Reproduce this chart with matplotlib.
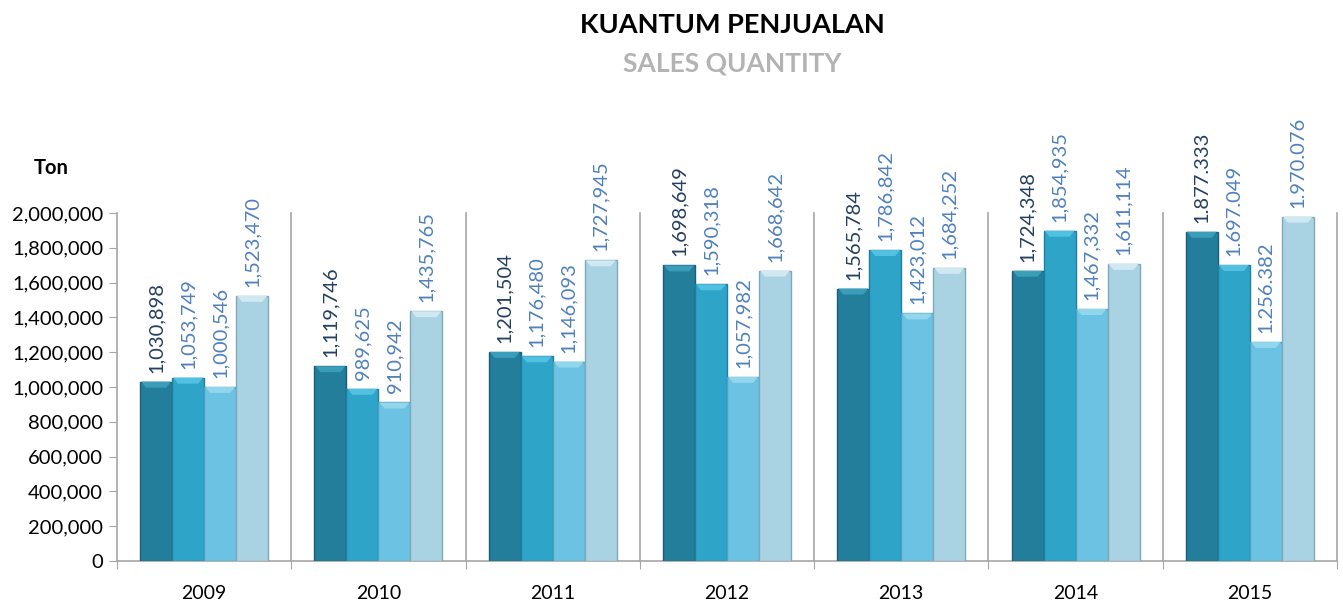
import numpy as np
import matplotlib
matplotlib.use('Agg')
import matplotlib.pyplot as plt
from matplotlib.patches import Polygon

plt.rcParams['font.family'] = ['Lato', 'DejaVu Sans']

years = ['2009', '2010', '2011', '2012', '2013', '2014', '2015']

# label text as printed on the chart
labels = [
    ['1,030,898', '1,053,749', '1,000,546', '1,523,470'],
    ['1,119,746', '989,625', '910,942', '1,435,765'],
    ['1,201,504', '1,176,480', '1,146,093', '1,727,945'],
    ['1,698,649', '1,590,318', '1,057,982', '1,668,642'],
    ['1,565,784', '1,786,842', '1,423,012', '1,684,252'],
    ['1,724,348', '1,854,935', '1,467,332', '1,611,114'],
    ['1.877.333', '1.697.049', '1.256.382', '1.970.076'],
]

# bar heights as drawn (2014 bars do not quite follow their labels)
heights = [
    [1030898, 1053749, 1000546, 1523470],
    [1119746, 989625, 910942, 1435765],
    [1201504, 1176480, 1146093, 1727945],
    [1698649, 1590318, 1057982, 1668642],
    [1565784, 1786842, 1423012, 1684252],
    [1668000, 1898000, 1448000, 1707000],
    [1892000, 1701000, 1259000, 1979000],
]

bar_colors = ['#237e9b', '#2ea4c8', '#6cc2e2', '#a9d2e3']
edge_colors = ['#1a5f75', '#1f7f9c', '#4f9fbf', '#7fa9ba']
top_colors = ['#3a9dba', '#52c0e0', '#92d6ee', '#cfe8f2']
label_colors = ['#243f60', '#4f81bd', '#4f81bd', '#4f81bd']

fig = plt.figure(figsize=(13.43, 6.05), dpi=100)
ax = fig.add_axes([0.0871, 0.0727, 0.9084, 0.5753])

ymax = 2000000
ax.set_xlim(0, 7)
ax.set_ylim(0, ymax)

bw = 0.1836
n = len(years)
h = np.array(heights)

# pixel -> data conversion for the bevel
px_x = 7 / (0.9084 * 1343)
px_y = ymax / (0.5753 * 605)

for s in range(4):
    xs = np.arange(n) + 0.5 + (s - 1.5) * bw
    ax.bar(xs, h[:, s], width=bw, color=bar_colors[s], edgecolor=edge_colors[s],
           linewidth=1.0, zorder=3)
    for i in range(n):
        x0 = xs[i] - bw / 2
        x1 = xs[i] + bw / 2
        top = h[i, s]
        bev = Polygon([(x0 + px_x, top), (x1 - px_x, top), (x1 - 6 * px_x, top - 6 * px_y),
                       (x0 + 6 * px_x, top - 6 * px_y)],
                      closed=True, facecolor=top_colors[s], edgecolor='none', zorder=4)
        ax.add_patch(bev)
        ax.text(xs[i], top + 9 * px_y, labels[i][s], rotation=90, ha='center', va='bottom',
                fontsize=14.5, color=label_colors[s], clip_on=False, zorder=5)

# group dividers
for k in range(1, 8):
    ax.plot([k, k], [0, ymax], color='#a6a6a6', lw=1.2, zorder=1, clip_on=False)

ax.set_yticks(np.arange(0, ymax + 1, 200000))
ax.set_yticklabels([f'{v:,}' for v in range(0, ymax + 1, 200000)], fontsize=14.5)
ax.set_xticks(np.arange(0, 8))
ax.set_xticklabels([])
ax.set_xticks(np.arange(n) + 0.5, minor=True)
ax.set_xticklabels(years, minor=True, fontsize=14)
ax.tick_params(axis='x', which='minor', length=0, pad=17)
ax.tick_params(axis='x', which='major', length=6, color='#a6a6a6', direction='out')
ax.tick_params(axis='y', length=6, color='#a6a6a6', direction='out', pad=4)

for side in ['top', 'right']:
    ax.spines[side].set_visible(False)
ax.spines['left'].set_color('#a6a6a6')
ax.spines['left'].set_linewidth(1.2)
ax.spines['bottom'].set_color('#a6a6a6')
ax.spines['bottom'].set_linewidth(1.2)

fig.text(0.545, 0.958, 'KUANTUM PENJUALAN', ha='center', va='center',
         fontsize=19.5, fontweight='bold', color='black')
fig.text(0.545, 0.895, 'SALES QUANTITY', ha='center', va='center',
         fontsize=19, fontweight='bold', color='#b3b3b3')
fig.text(0.038, 0.722, 'Ton', ha='center', va='center', fontsize=14.5, fontweight='bold')

fig.savefig('out.png', dpi=100)
